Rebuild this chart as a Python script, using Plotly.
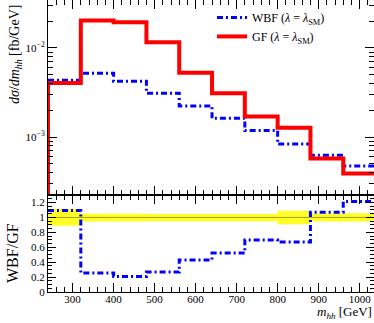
import plotly.graph_objects as go

# ---- data ----
bin_edges = [240, 320, 400, 480, 560, 640, 720, 800, 880, 960, 1040]
wbf = [0.00434, 0.00520, 0.00423, 0.00310, 0.00223, 0.00162, 0.00118, 0.000833, 0.000622, 0.000472]
gf = [0.00405, 0.0203, 0.0195, 0.0116, 0.00528, 0.0031, 0.0017, 0.00127, 0.000575, 0.00039]
ratio = [1.094, 0.254, 0.209, 0.268, 0.43, 0.522, 0.696, 0.669, 1.071, 1.213]
band_hi = [1.115, 1.048, 1.048, 1.045, 1.045, 1.045, 1.045, 1.088, 1.057, 1.057]
band_lo = [0.890, 0.945, 0.945, 0.948, 0.948, 0.948, 0.948, 0.910, 0.945, 0.945]
ref_line = [1.0] * 10

FONT = "Liberation Serif"
BLUE = "#0000ff"
RED = "#ff0000"


def step(vals):
    return list(vals) + [vals[-1]]


fig = go.Figure()

# main panel
fig.add_trace(go.Scatter(
    x=bin_edges, y=step(wbf), mode="lines", line_shape="hv",
    line=dict(color=BLUE, width=3, dash="6px,3px,2px,3px"),
    name="WBF (<i>λ</i> = <i>λ</i><sub>SM</sub>)", xaxis="x", yaxis="y"))
fig.add_trace(go.Scatter(
    x=[bin_edges[0]] + bin_edges, y=[1e-6] + step(gf), mode="lines", line_shape="hv",
    line=dict(color=RED, width=4),
    name="GF (<i>λ</i> = <i>λ</i><sub>SM</sub>)", xaxis="x", yaxis="y"))

# ratio panel band
fig.add_trace(go.Scatter(
    x=bin_edges, y=step(band_lo), mode="lines", line_shape="hv",
    line=dict(color="rgba(0,0,0,0)", width=0), showlegend=False,
    hoverinfo="skip", xaxis="x2", yaxis="y2"))
fig.add_trace(go.Scatter(
    x=bin_edges, y=step(band_hi), mode="lines", line_shape="hv",
    line=dict(color="rgba(0,0,0,0)", width=0), fill="tonexty",
    fillcolor="rgba(255,255,0,0.85)", showlegend=False,
    hoverinfo="skip", xaxis="x2", yaxis="y2"))
fig.add_trace(go.Scatter(
    x=bin_edges, y=step(ref_line), mode="lines", line_shape="hv",
    line=dict(color="rgba(120,120,0,0.7)", width=1), showlegend=False,
    xaxis="x2", yaxis="y2"))
fig.add_trace(go.Scatter(
    x=bin_edges, y=step(ratio), mode="lines", line_shape="hv",
    line=dict(color=BLUE, width=3, dash="6px,3px,2px,3px"), showlegend=False,
    xaxis="x2", yaxis="y2"))

split = 0.332
axis_common = dict(showline=True, linecolor="black", linewidth=1, mirror="ticks",
                   ticks="inside", tickcolor="black", showgrid=False, zeroline=False,
                   automargin=False,
                   tickfont=dict(family=FONT, size=11, color="black"))

fig.update_layout(
    width=374, height=323,
    margin=dict(l=48, r=0, t=0, b=31, autoexpand=False),
    paper_bgcolor="white", plot_bgcolor="white",
    font=dict(family=FONT, color="black"),
    xaxis=dict(domain=[0, 1], range=[240, 1035], anchor="y", dtick=100,
               ticklen=9, showticklabels=False,
               minor=dict(dtick=20, ticklen=5, ticks="inside", tickcolor="black"),
               **axis_common),
    yaxis=dict(domain=[split, 1], type="log", range=[-3.652, -1.461], anchor="x",
               tickvals=[1e-3, 1e-2], ticktext=["10<sup>−3</sup>", "10<sup>−2</sup>"],
               ticklen=9,
               minor=dict(dtick="D1", ticklen=5, ticks="inside", tickcolor="black"),
               **axis_common),
    xaxis2=dict(domain=[0, 1], range=[240, 1035], anchor="y2", dtick=100,
                ticklen=9, ticklabelstandoff=-3,
                minor=dict(dtick=20, ticklen=5, ticks="inside", tickcolor="black"),
                **axis_common),
    yaxis2=dict(domain=[0, split], range=[0, 1.3], anchor="x2",
                tickvals=[0, 0.2, 0.4, 0.6, 0.8, 1, 1.2],
                ticktext=["0", "0.2", "0.4", "0.6", "0.8", "1", "1.2"],
                ticklen=8,
                minor=dict(dtick=0.05, ticklen=4, ticks="inside", tickcolor="black"),
                **axis_common),
    legend=dict(x=0.503, y=0.99, xanchor="left", yanchor="top", traceorder="normal",
                bgcolor="rgba(0,0,0,0)", font=dict(family=FONT, size=12),
                tracegroupgap=0),
    annotations=[
        dict(text="<i>m</i><sub><i>hh</i></sub> [GeV]", xref="paper", yref="paper",
             x=1.0, y=-0.106, xanchor="right", yanchor="bottom", showarrow=False,
             font=dict(family=FONT, size=13)),
        dict(text="<i>dσ</i>/<i>dm</i><sub><i>hh</i></sub> [fb/GeV]", xref="paper", yref="paper",
             x=-0.101, y=0.993, xanchor="center", yanchor="top", textangle=-90,
             showarrow=False, font=dict(family=FONT, size=14)),
        dict(text="WBF/GF", xref="paper", yref="paper",
             x=-0.107, y=0.134, xanchor="center", yanchor="middle", textangle=-90,
             showarrow=False, font=dict(family=FONT, size=16)),
    ],
)

fig.write_html("out.html", config={"displayModeBar": False},
               post_script="document.body.style.margin='0';document.body.style.overflow='hidden';")
